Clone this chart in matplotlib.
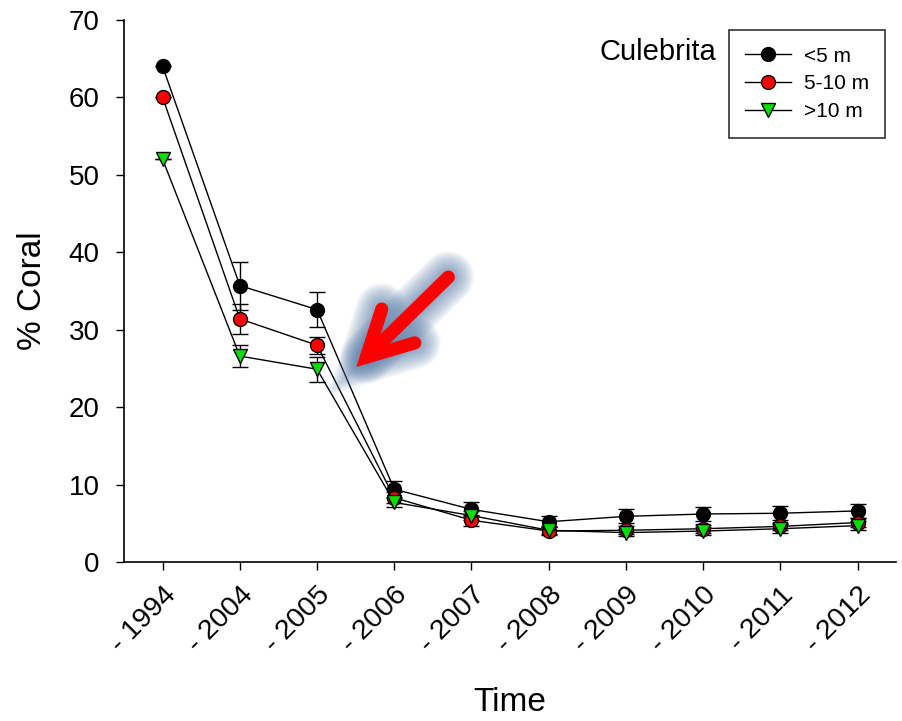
import matplotlib.pyplot as plt
import matplotlib.patheffects as pe
from matplotlib.lines import Line2D

plt.rcParams['font.family'] = ['Liberation Sans', 'DejaVu Sans']

anos = ['- 1994', '- 2004', '- 2005', '- 2006', '- 2007', '- 2008', '- 2009', '- 2010', '- 2011', '- 2012']

raso = [64.0, 35.7, 32.6, 9.4, 6.8, 5.2, 5.9, 6.2, 6.3, 6.6]
raso_err = [0, 3.1, 2.3, 1.0, 0.9, 0.7, 0.9, 0.9, 0.9, 0.9]

medio = [60.0, 31.4, 28.0, 8.3, 5.4, 4.0, 4.1, 4.3, 4.6, 5.1]
medio_err = [0, 1.9, 1.1, 0.7, 0.7, 0.5, 0.5, 0.5, 0.5, 0.6]

fundo = [52.0, 26.6, 24.9, 7.7, 6.0, 4.1, 3.8, 4.0, 4.3, 4.7]
fundo_err = [0, 1.4, 1.6, 0.6, 0.6, 0.5, 0.5, 0.5, 0.6, 0.6]

series = [
    ('<5 m', raso, raso_err, 'o', 'black'),
    ('5-10 m', medio, medio_err, 'o', '#ff0000'),
    ('>10 m', fundo, fundo_err, 'v', '#00e000'),
]

fig = plt.figure(figsize=(9.02, 7.21), dpi=100)
ax = fig.add_axes([0.1375, 0.2205, 0.856, 0.7517])

x = list(range(len(anos)))
handles = []
for nome, valores, erros, marcador, cor in series:
    ax.errorbar(x, valores, yerr=erros, color='black', lw=1, elinewidth=1,
                capsize=5.5, capthick=1, marker=marcador, markersize=10,
                markerfacecolor=cor, markeredgecolor='black', markeredgewidth=1)
    handles.append(Line2D([], [], color='black', lw=1, marker=marcador, markersize=10,
                          markerfacecolor=cor, markeredgecolor='black', label=nome))

ax.set_xlim(-0.5, 9.5)
ax.set_ylim(0, 70)
ax.set_yticks(range(0, 71, 10))
ax.set_xticks(x)
ax.set_xticklabels(anos, rotation=45, ha='right', va='top', rotation_mode='anchor')
ax.tick_params(axis='both', length=5.5, width=1, direction='out')
ax.tick_params(axis='y', labelsize=20, pad=12)
ax.tick_params(axis='x', labelsize=20.5, pad=9)
for lado in ['top', 'right']:
    ax.spines[lado].set_visible(False)
ax.spines['left'].set_linewidth(1.2)
ax.spines['bottom'].set_linewidth(1.2)

ax.set_ylabel('% Coral', fontsize=24, labelpad=15)
ax.set_xlabel('Time', fontsize=24, labelpad=21)

leg = ax.legend(handles=handles, loc='upper right', bbox_to_anchor=(0.986, 0.9815),
                borderaxespad=0, fontsize=15, frameon=True, fancybox=False,
                edgecolor='black', handlelength=2.2, handletextpad=0.6,
                borderpad=0.8, labelspacing=0.42)
leg.get_frame().set_linewidth(1.2)

ax.text(0.767, 0.941, 'Culebrita', transform=ax.transAxes, fontsize=21,
        ha='right', va='center')

# seta vermelha com brilho azulado (brilho desenhado por baixo)
inicio = (3.70, 36.8)
ponta = (2.51, 25.2)
estilo = '->,head_length=1.6,head_width=0.85'
brilho = [pe.Stroke(linewidth=9.5 + w, foreground='#557aa8', alpha=0.06)
          for w in range(28, 0, -2)]
ax.annotate('', xy=ponta, xytext=inicio, zorder=4,
            arrowprops=dict(arrowstyle=estilo, mutation_scale=20, lw=9.5,
                            color='#557aa8', alpha=0.0, capstyle='round',
                            joinstyle='miter', shrinkA=0, shrinkB=0,
                            path_effects=brilho))
ax.annotate('', xy=ponta, xytext=inicio, zorder=5,
            arrowprops=dict(arrowstyle=estilo, mutation_scale=20, lw=9.5,
                            color='#ff0000', capstyle='round',
                            joinstyle='miter', shrinkA=0, shrinkB=0))

plt.savefig('out.png', dpi=100)
